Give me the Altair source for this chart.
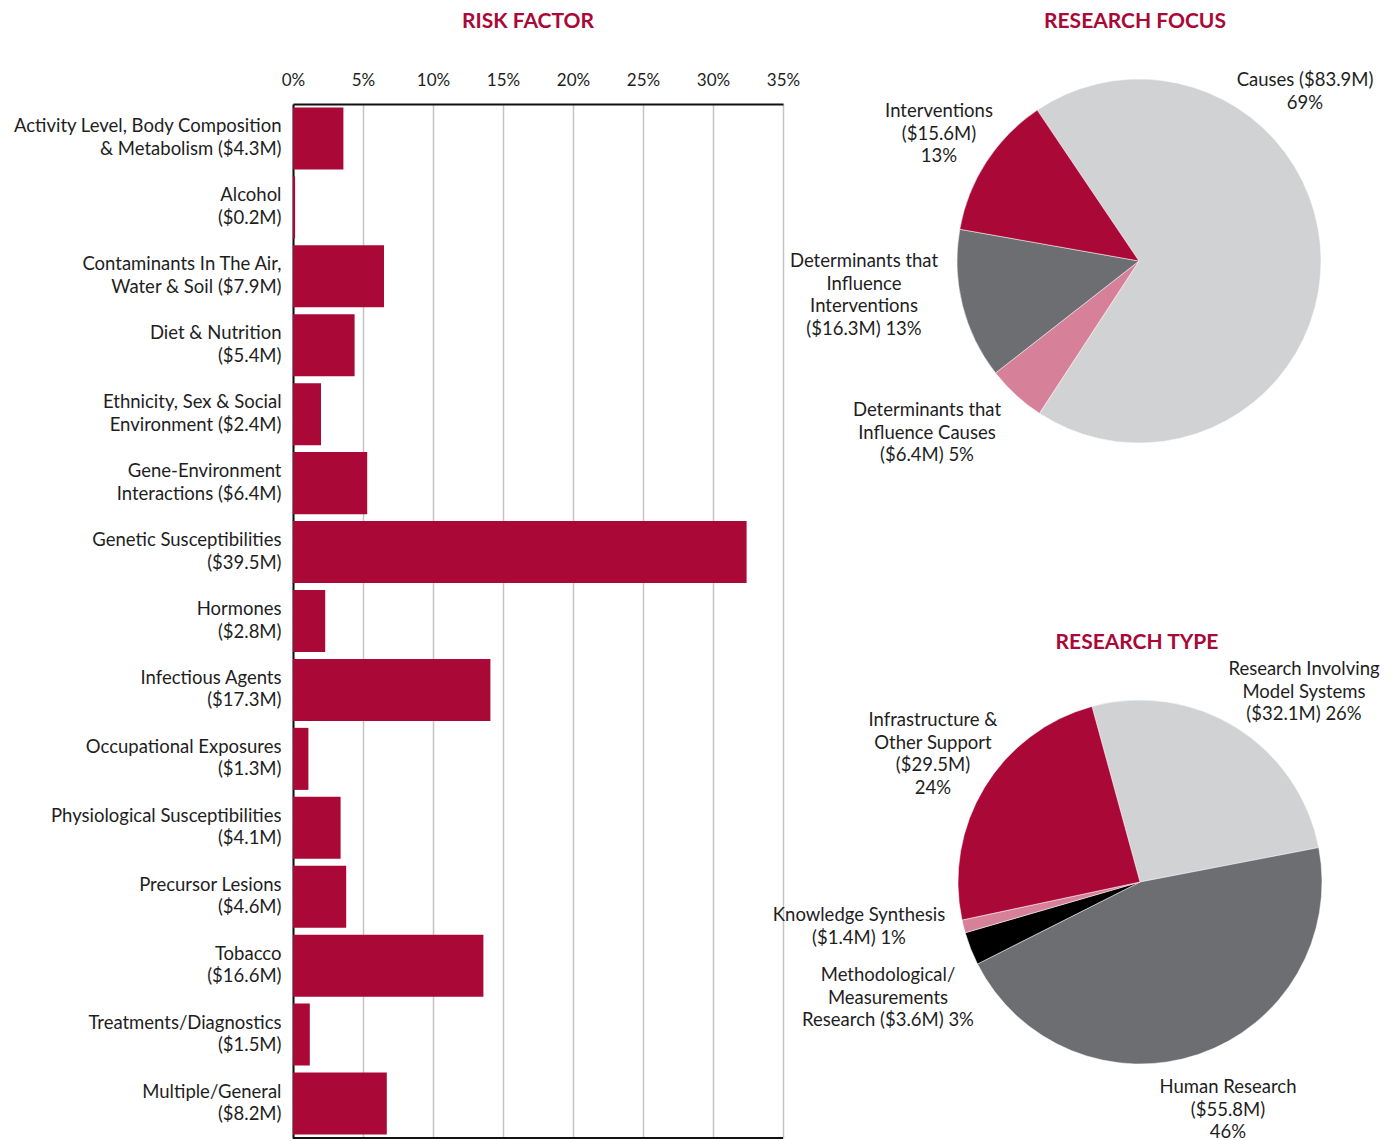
import math
import altair as alt
import pandas as pd

# ---------------- data ----------------
risk_factors = [
    "Activity Level, Body Composition\n& Metabolism ($4.3M)",
    "Alcohol\n($0.2M)",
    "Contaminants In The Air,\nWater & Soil ($7.9M)",
    "Diet & Nutrition\n($5.4M)",
    "Ethnicity, Sex & Social\nEnvironment ($2.4M)",
    "Gene-Environment\nInteractions ($6.4M)",
    "Genetic Susceptibilities\n($39.5M)",
    "Hormones\n($2.8M)",
    "Infectious Agents\n($17.3M)",
    "Occupational Exposures\n($1.3M)",
    "Physiological Susceptibilities\n($4.1M)",
    "Precursor Lesions\n($4.6M)",
    "Tobacco\n($16.6M)",
    "Treatments/Diagnostics\n($1.5M)",
    "Multiple/General\n($8.2M)",
]
risk_pct = [3.6, 0.15, 6.5, 4.4, 2.0, 5.3, 32.4, 2.3, 14.1, 1.1, 3.4, 3.8, 13.6, 1.2, 6.7]
x_ticks = [0, 5, 10, 15, 20, 25, 30, 35]

focus_cats = ["Causes", "Determinants that Influence Causes",
              "Determinants that Influence Interventions", "Interventions"]
focus_vals = [83.9, 6.4, 16.3, 15.6]
focus_labels = ["Causes ($83.9M)\n69%",
                "Determinants that\nInfluence Causes\n($6.4M) 5%",
                "Determinants that\nInfluence\nInterventions\n($16.3M) 13%",
                "Interventions\n($15.6M)\n13%"]

type_cats = ["Research Involving Model Systems", "Human Research",
             "Methodological/Measurements Research", "Knowledge Synthesis",
             "Infrastructure & Other Support"]
type_vals = [32.1, 55.8, 3.6, 1.4, 29.5]
type_labels = ["Research Involving\nModel Systems\n($32.1M) 26%",
               "Human Research\n($55.8M)\n46%",
               "Methodological/\nMeasurements\nResearch ($3.6M) 3%",
               "Knowledge Synthesis\n($1.4M) 1%",
               "Infrastructure &\nOther Support\n($29.5M)\n24%"]

# ---------------- styles / layout ----------------
CRIMSON = "#aa0836"
LIGHT = "#d1d2d4"
DARK = "#6d6e71"
PINK = "#d6809a"
BLACK = "#000000"
focus_colors = [LIGHT, PINK, DARK, CRIMSON]
type_colors = [LIGHT, DARK, BLACK, PINK, CRIMSON]
FONT = "Lato"
TEXT_COLOR = "#1e1e1e"
LABEL_SIZE = 18.5

W, H = 490, 1034
focus_center = (846, 157)
type_center = (847, 778)
RADIUS = 182
focus_start = math.radians(326)
type_start = math.radians(344.7)

# first-line centre of each annotation (pixels relative to the bar plot's top-left)
focus_label_pos = [(1012, -24), (634, 306), (571, 157), (646, 7)]
type_label_pos = [(1011, 565), (935, 983), (595, 871), (566, 811), (640, 616)]
titles = [("RISK FACTOR", 235, -82), ("RESEARCH FOCUS", 842, -82), ("RESEARCH TYPE", 844, 539)]

# ---------------- bar chart ----------------
risk_df = pd.DataFrame({"factor": risk_factors, "pct": risk_pct})

bars = alt.Chart(risk_df).mark_bar(color=CRIMSON).encode(
    x=alt.X("pct:Q",
            scale=alt.Scale(domain=[0, 35], nice=False),
            axis=alt.Axis(orient="top", values=x_ticks, title=None, ticks=False,
                          labelExpr="datum.value + '%'", labelPadding=15,
                          labelFlush=False,
                          labelFontSize=17, labelFont=FONT, labelColor=TEXT_COLOR,
                          domainColor="#111111", domainWidth=2,
                          grid=True, gridColor="#c4c4c4", gridWidth=1.5)),
    y=alt.Y("factor:N", sort=None,
            scale=alt.Scale(paddingInner=0.1, paddingOuter=0.05),
            axis=alt.Axis(title=None, ticks=False, labelPadding=12,
                          labelExpr="split(datum.label, '\\n')",
                          labelFontSize=LABEL_SIZE, labelFont=FONT, labelColor=TEXT_COLOR,
                          labelLineHeight=22.5, labelLimit=500, labelOffset=-12,
                          domainColor="#111111", domainWidth=2)),
)

bottom_line = alt.Chart(risk_df).mark_rule(color="#111111", strokeWidth=2).encode(
    x=alt.datum(0), x2=alt.datum(35), y=alt.value(H)
)

# ---------------- pies ----------------
focus_df = pd.DataFrame({"cat": focus_cats, "value": focus_vals,
                         "idx": list(range(len(focus_cats)))})
type_df = pd.DataFrame({"cat": type_cats, "value": type_vals,
                        "idx": list(range(len(type_cats)))})


def pie(df, cats, colors, start, center):
    return alt.Chart(df).mark_arc(radius=RADIUS, stroke="#ffffff", strokeWidth=0.5).encode(
        theta=alt.Theta("value:Q", stack=True,
                        scale=alt.Scale(range=[start, start + 2 * math.pi])),
        color=alt.Color("cat:N", scale=alt.Scale(domain=cats, range=colors), legend=None),
        order=alt.Order("idx:Q"),
        x=alt.value(center[0]),
        y=alt.value(center[1]),
    )


focus_pie = pie(focus_df, focus_cats, focus_colors, focus_start, focus_center)
type_pie = pie(type_df, type_cats, type_colors, type_start, type_center)

texts = []
for labels, positions in ((focus_labels, focus_label_pos), (type_labels, type_label_pos)):
    for lab, (px, py) in zip(labels, positions):
        texts.append(
            alt.Chart(pd.DataFrame({"t": [lab]})).mark_text(
                font=FONT, fontSize=LABEL_SIZE, color=TEXT_COLOR, align="center",
                baseline="middle", lineBreak="\n", lineHeight=22.5
            ).encode(text="t:N", x=alt.value(px), y=alt.value(py))
        )

for t, px, py in titles:
    texts.append(
        alt.Chart(pd.DataFrame({"t": [t]})).mark_text(
            font=FONT, fontSize=21, fontWeight="bold", color=CRIMSON,
            align="center", baseline="middle"
        ).encode(text="t:N", x=alt.value(px), y=alt.value(py))
    )

chart = alt.layer(bars, bottom_line, focus_pie, type_pie, *texts).resolve_scale(
    theta="independent", color="independent"
).properties(
    width=W, height=H,
    padding={"left": 285, "top": 96, "right": 600, "bottom": 5},
    autosize=alt.AutoSizeParams(type="none"),
).configure_view(stroke=None).configure(background="white")

chart.save("out.html", embed_options={"renderer": "svg", "actions": False})
